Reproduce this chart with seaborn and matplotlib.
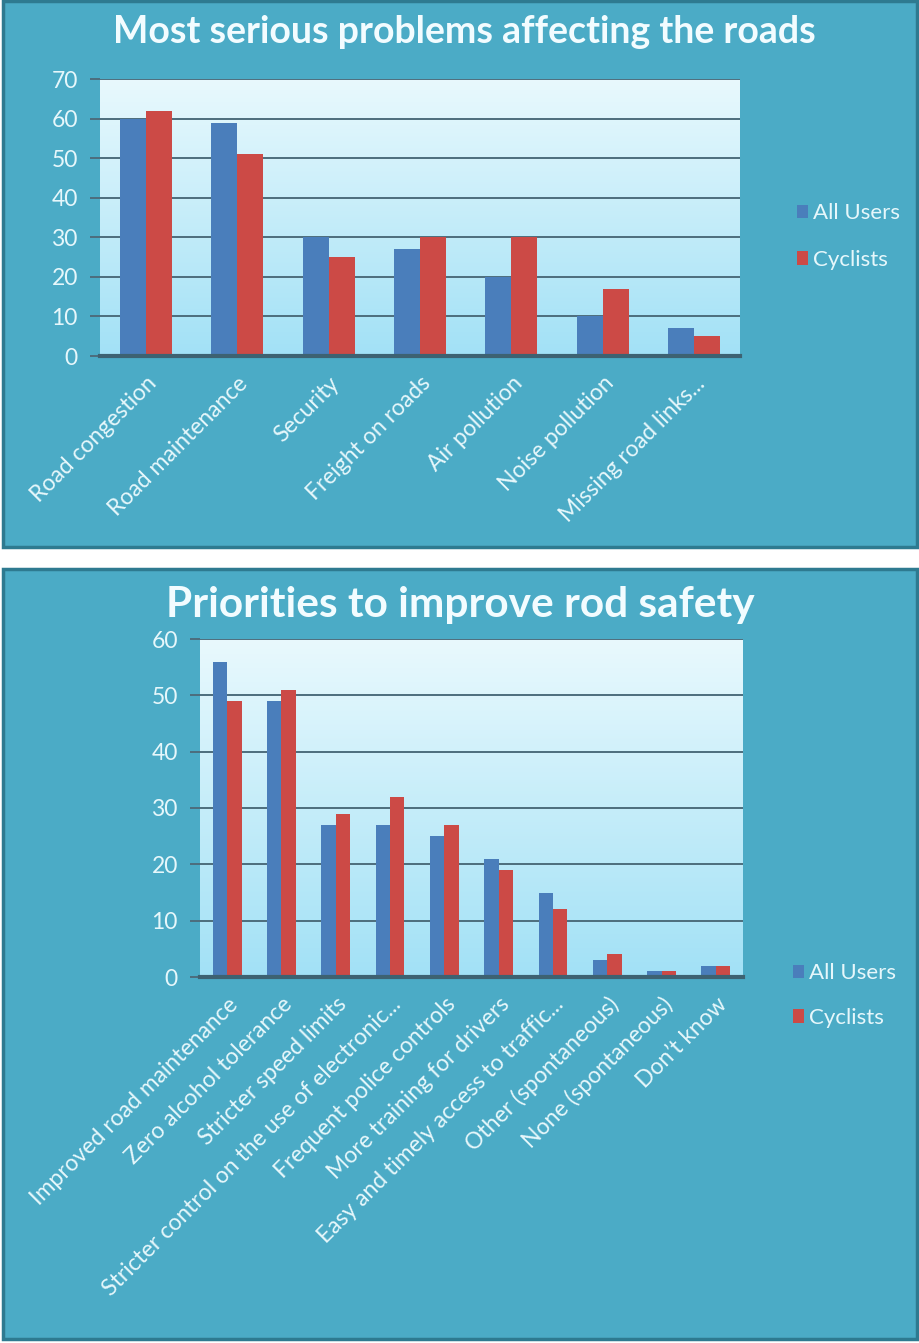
import matplotlib
matplotlib.use('Agg')
import matplotlib.pyplot as plt
import seaborn as sns
import numpy as np
import pandas as pd
from matplotlib.patches import Rectangle
from matplotlib.colors import LinearSegmentedColormap

# ---------------- data ----------------
series_names = ['All Users', 'Cyclists']

top_title = 'Most serious problems affecting the roads'
top_categories = ['Road congestion', 'Road maintenance', 'Security', 'Freight on roads',
                  'Air pollution', 'Noise pollution', 'Missing road links...']
top_all_users = [60, 59, 30, 27, 20, 10, 7]
top_cyclists = [62, 51, 25, 30, 30, 17, 5]
top_yticks = [0, 10, 20, 30, 40, 50, 60, 70]

bottom_title = 'Priorities to improve rod safety'
bottom_categories = ['Improved road maintenance', 'Zero alcohol tolerance', 'Stricter speed limits',
                     'Stricter control on the use of electronic...', 'Frequent police controls',
                     'More training for drivers', 'Easy and timely access to traffic...',
                     'Other (spontaneous)', 'None (spontaneous)', 'Don\u2019t know']
bottom_all_users = [56, 49, 27, 27, 25, 21, 15, 3, 1, 2]
bottom_cyclists = [49, 51, 29, 32, 27, 19, 12, 4, 1, 2]
bottom_yticks = [0, 10, 20, 30, 40, 50, 60]

# ---------------- style ----------------
BLUE = '#4a7ebb'
RED = '#cc4a46'
PANEL = '#4babc6'
EDGE = '#2e7a90'
GRID = '#4d6d7c'
TXT = '#e6f7fb'
FONT = ['Lato', 'DejaVu Sans']

plt.rcParams['font.family'] = FONT

W, H = 920, 1343
fig = plt.figure(figsize=(W / 100, H / 100), dpi=100)
fig.patch.set_facecolor('white')

# background panels
for (y0, y1) in [(1, 547), (569, 1339)]:
    fig.patches.append(Rectangle((3 / W, 1 - y1 / H), 914 / W, (y1 - y0) / H,
                                 transform=fig.transFigure, facecolor=PANEL,
                                 edgecolor=EDGE, linewidth=2.5, zorder=-5))


def ax_rect(x0, y0, x1, y1):
    return [x0 / W, 1 - y1 / H, (x1 - x0) / W, (y1 - y0) / H]


cmap = LinearSegmentedColormap.from_list('bg', ['#e9f9fd', '#a2e1f6'])


def draw(rect, cats, a, c, yticks, width, title, title_xy, title_size, leg_xy, leg_spacing):
    ax = fig.add_axes(rect, zorder=2)
    ax.set_facecolor('none')
    df = pd.DataFrame({
        'category': list(cats) * 2,
        'value': list(a) + list(c),
        'series': [series_names[0]] * len(cats) + [series_names[1]] * len(cats),
    })
    grad = np.linspace(0, 1, 256).reshape(-1, 1)
    ax.imshow(grad, cmap=cmap, extent=[0, 1, 0, 1], transform=ax.transAxes,
              aspect='auto', origin='upper', zorder=0)
    sns.barplot(data=df, x='category', y='value', hue='series', palette=[BLUE, RED],
                width=width, ax=ax, linewidth=0, saturation=1, zorder=3, errorbar=None)
    ax.set_xlim(-0.5, len(cats) - 0.5)
    ax.set_ylim(yticks[0], yticks[-1])
    ax.set_yticks(yticks)
    ax.set_yticklabels([str(t) for t in yticks])
    ax.set_xlabel('')
    ax.set_ylabel('')
    ax.yaxis.grid(True, color=GRID, linewidth=1.4, zorder=1)
    ax.xaxis.grid(False)
    ax.set_axisbelow(True)
    for s in ['top', 'right', 'left']:
        ax.spines[s].set_visible(False)
    ax.spines['bottom'].set_color('#3d6272')
    ax.spines['bottom'].set_linewidth(3)
    ax.spines['bottom'].set_zorder(4)
    ax.tick_params(axis='y', length=7, width=1.4, color=GRID, labelcolor=TXT, labelsize=16.5, pad=9)
    ax.tick_params(axis='x', length=0, labelsize=16.5, labelcolor=TXT, pad=12)
    for lab in ax.get_xticklabels():
        lab.set_rotation(45)
        lab.set_ha('right')
        lab.set_rotation_mode('anchor')
    handles, labels = ax.get_legend_handles_labels()
    ax.legend(handles, labels, loc='center left', bbox_to_anchor=leg_xy,
              bbox_transform=fig.transFigure, frameon=False, fontsize=16,
              labelcolor=TXT, handlelength=0.5, handleheight=0.55, handletextpad=0.2,
              labelspacing=leg_spacing, borderpad=0)
    fig.text(title_xy[0] / W, 1 - title_xy[1] / H, title, ha='center', va='center',
             fontsize=title_size, fontweight='bold', color='#f2fcff')
    return ax


draw(ax_rect(100, 79, 740, 356), top_categories, top_all_users, top_cyclists, top_yticks,
     0.57, top_title, (464, 32), 27, (786 / W, 1 - 236.5 / H), 1.2)
draw(ax_rect(200, 639, 743, 977), bottom_categories, bottom_all_users, bottom_cyclists,
     bottom_yticks, 0.53, bottom_title, (460, 605), 30.5, (782 / W, 1 - 995.5 / H), 1.1)

fig.savefig('out.png', dpi=100, facecolor='white')
